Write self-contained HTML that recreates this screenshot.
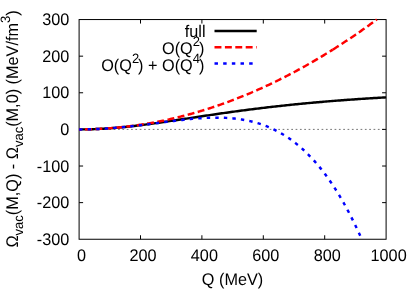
<!DOCTYPE html>
<html><head><meta charset="utf-8"><style>
html,body{margin:0;padding:0;background:#fff;}
svg{display:block;will-change:transform}
text{text-rendering:geometricPrecision;font-family:"Liberation Sans",sans-serif;font-size:16.25px;fill:#000}
</style></head><body>
<svg width="415" height="291" viewBox="0 0 415 291">
<line x1="79.1" y1="129.40" x2="386.1" y2="129.40" stroke="#000" stroke-width="0.55" stroke-dasharray="1.73,2.6"/>
<g stroke="#000" stroke-width="1" fill="none">
<rect x="79.1" y="19.55" width="307.0" height="219.7"/>
<line x1="79.1" y1="202.63" x2="83.1" y2="202.63"/><line x1="386.1" y1="202.63" x2="382.1" y2="202.63"/>
<line x1="79.1" y1="166.02" x2="83.1" y2="166.02"/><line x1="386.1" y1="166.02" x2="382.1" y2="166.02"/>
<line x1="79.1" y1="129.40" x2="83.1" y2="129.40"/><line x1="386.1" y1="129.40" x2="382.1" y2="129.40"/>
<line x1="79.1" y1="92.78" x2="83.1" y2="92.78"/><line x1="386.1" y1="92.78" x2="382.1" y2="92.78"/>
<line x1="79.1" y1="56.17" x2="83.1" y2="56.17"/><line x1="386.1" y1="56.17" x2="382.1" y2="56.17"/>
<line x1="140.50" y1="239.25" x2="140.50" y2="235.25"/><line x1="140.50" y1="19.55" x2="140.50" y2="23.55"/>
<line x1="201.90" y1="239.25" x2="201.90" y2="235.25"/><line x1="201.90" y1="19.55" x2="201.90" y2="23.55"/>
<line x1="263.30" y1="239.25" x2="263.30" y2="235.25"/><line x1="263.30" y1="19.55" x2="263.30" y2="23.55"/>
<line x1="324.70" y1="239.25" x2="324.70" y2="235.25"/><line x1="324.70" y1="19.55" x2="324.70" y2="23.55"/>
</g>
<g fill="none" stroke-width="2.45">
<path d="M79.10,129.40 L80.63,129.40 L82.17,129.39 L83.70,129.37 L85.24,129.35 L86.77,129.33 L88.31,129.30 L89.84,129.26 L91.38,129.21 L92.91,129.16 L94.45,129.11 L95.98,129.05 L97.52,128.98 L99.05,128.91 L100.59,128.83 L102.12,128.75 L103.66,128.66 L105.19,128.57 L106.73,128.47 L108.26,128.37 L109.80,128.26 L111.33,128.15 L112.87,128.03 L114.41,127.91 L115.94,127.78 L117.47,127.65 L119.01,127.51 L120.54,127.37 L122.08,127.22 L123.61,127.07 L125.15,126.92 L126.69,126.76 L128.22,126.60 L129.75,126.43 L131.29,126.26 L132.82,126.09 L134.36,125.91 L135.89,125.73 L137.43,125.55 L138.97,125.36 L140.50,125.17 L142.03,124.98 L143.57,124.79 L145.10,124.59 L146.64,124.39 L148.18,124.19 L149.71,123.98 L151.25,123.77 L152.78,123.56 L154.31,123.35 L155.85,123.14 L157.38,122.92 L158.92,122.70 L160.45,122.48 L161.99,122.26 L163.52,122.04 L165.06,121.82 L166.59,121.59 L168.13,121.36 L169.66,121.14 L171.20,120.91 L172.74,120.68 L174.27,120.45 L175.81,120.22 L177.34,119.99 L178.88,119.76 L180.41,119.53 L181.94,119.29 L183.48,119.06 L185.01,118.83 L186.55,118.59 L188.08,118.36 L189.62,118.13 L191.16,117.89 L192.69,117.66 L194.22,117.43 L195.76,117.20 L197.29,116.96 L198.83,116.73 L200.37,116.50 L201.90,116.27 L203.44,116.04 L204.97,115.81 L206.50,115.58 L208.04,115.35 L209.57,115.12 L211.11,114.90 L212.64,114.67 L214.18,114.45 L215.72,114.22 L217.25,114.00 L218.78,113.78 L220.32,113.56 L221.85,113.33 L223.39,113.12 L224.92,112.90 L226.46,112.68 L228.00,112.46 L229.53,112.25 L231.06,112.04 L232.60,111.82 L234.13,111.61 L235.67,111.40 L237.20,111.20 L238.74,110.99 L240.28,110.78 L241.81,110.58 L243.34,110.38 L244.88,110.17 L246.41,109.97 L247.95,109.77 L249.48,109.58 L251.02,109.38 L252.56,109.19 L254.09,108.99 L255.62,108.80 L257.16,108.61 L258.69,108.42 L260.23,108.23 L261.76,108.05 L263.30,107.86 L264.84,107.68 L266.37,107.50 L267.90,107.32 L269.44,107.14 L270.98,106.96 L272.51,106.79 L274.04,106.61 L275.58,106.44 L277.12,106.27 L278.65,106.10 L280.19,105.93 L281.72,105.76 L283.25,105.60 L284.79,105.43 L286.32,105.27 L287.86,105.11 L289.39,104.95 L290.93,104.79 L292.47,104.63 L294.00,104.48 L295.53,104.32 L297.07,104.17 L298.61,104.02 L300.14,103.87 L301.67,103.72 L303.21,103.57 L304.75,103.43 L306.28,103.28 L307.81,103.14 L309.35,103.00 L310.88,102.85 L312.42,102.72 L313.95,102.58 L315.49,102.44 L317.02,102.30 L318.56,102.17 L320.10,102.04 L321.63,101.91 L323.16,101.77 L324.70,101.64 L326.24,101.52 L327.77,101.39 L329.31,101.26 L330.84,101.14 L332.38,101.02 L333.91,100.89 L335.45,100.77 L336.98,100.65 L338.51,100.53 L340.05,100.42 L341.59,100.30 L343.12,100.18 L344.65,100.07 L346.19,99.96 L347.73,99.84 L349.26,99.73 L350.79,99.62 L352.33,99.51 L353.87,99.41 L355.40,99.30 L356.93,99.19 L358.47,99.09 L360.00,98.98 L361.54,98.88 L363.08,98.78 L364.61,98.68 L366.14,98.58 L367.68,98.48 L369.22,98.38 L370.75,98.28 L372.28,98.19 L373.82,98.09 L375.36,98.00 L376.89,97.91 L378.42,97.81 L379.96,97.72 L381.50,97.63 L383.03,97.54 L384.56,97.45 L386.10,97.36" stroke="#000"/>
<path d="M79.10,129.40 L80.37,129.40 L81.64,129.39 L82.91,129.38 L84.17,129.37 L85.44,129.35 L86.71,129.33 L87.98,129.30 L89.25,129.27 L90.52,129.24 L91.79,129.20 L93.06,129.16 L94.32,129.11 L95.59,129.06 L96.86,129.01 L98.13,128.95 L99.40,128.89 L100.67,128.82 L101.94,128.75 L103.20,128.68 L104.47,128.60 L105.74,128.52 L107.01,128.43 L108.28,128.34 L109.55,128.25 L110.82,128.15 L112.09,128.05 L113.35,127.95 L114.62,127.84 L115.89,127.72 L117.16,127.60 L118.43,127.48 L119.70,127.36 L120.97,127.23 L122.24,127.09 L123.50,126.96 L124.77,126.81 L126.04,126.67 L127.31,126.52 L128.58,126.37 L129.85,126.21 L131.12,126.05 L132.38,125.88 L133.65,125.71 L134.92,125.54 L136.19,125.36 L137.46,125.18 L138.73,124.99 L140.00,124.80 L141.27,124.61 L142.53,124.41 L143.80,124.21 L145.07,124.01 L146.34,123.80 L147.61,123.58 L148.88,123.37 L150.15,123.14 L151.41,122.92 L152.68,122.69 L153.95,122.46 L155.22,122.22 L156.49,121.98 L157.76,121.73 L159.03,121.48 L160.30,121.23 L161.56,120.97 L162.83,120.71 L164.10,120.45 L165.37,120.18 L166.64,119.90 L167.91,119.63 L169.18,119.34 L170.44,119.06 L171.71,118.77 L172.98,118.48 L174.25,118.18 L175.52,117.88 L176.79,117.57 L178.06,117.26 L179.33,116.95 L180.59,116.63 L181.86,116.31 L183.13,115.99 L184.40,115.66 L185.67,115.32 L186.94,114.99 L188.21,114.65 L189.47,114.30 L190.74,113.95 L192.01,113.60 L193.28,113.24 L194.55,112.88 L195.82,112.52 L197.09,112.15 L198.36,111.77 L199.62,111.40 L200.89,111.02 L202.16,110.63 L203.43,110.24 L204.70,109.85 L205.97,109.45 L207.24,109.05 L208.51,108.65 L209.77,108.24 L211.04,107.82 L212.31,107.41 L213.58,106.99 L214.85,106.56 L216.12,106.13 L217.39,105.70 L218.65,105.26 L219.92,104.82 L221.19,104.38 L222.46,103.93 L223.73,103.48 L225.00,103.02 L226.27,102.56 L227.54,102.09 L228.80,101.62 L230.07,101.15 L231.34,100.68 L232.61,100.19 L233.88,99.71 L235.15,99.22 L236.42,98.73 L237.68,98.23 L238.95,97.73 L240.22,97.23 L241.49,96.72 L242.76,96.20 L244.03,95.69 L245.30,95.17 L246.57,94.64 L247.83,94.11 L249.10,93.58 L250.37,93.05 L251.64,92.50 L252.91,91.96 L254.18,91.41 L255.45,90.86 L256.71,90.30 L257.98,89.74 L259.25,89.18 L260.52,88.61 L261.79,88.04 L263.06,87.46 L264.33,86.88 L265.60,86.29 L266.86,85.71 L268.13,85.11 L269.40,84.52 L270.67,83.92 L271.94,83.31 L273.21,82.70 L274.48,82.09 L275.75,81.48 L277.01,80.86 L278.28,80.23 L279.55,79.60 L280.82,78.97 L282.09,78.33 L283.36,77.69 L284.63,77.05 L285.89,76.40 L287.16,75.75 L288.43,75.09 L289.70,74.43 L290.97,73.77 L292.24,73.10 L293.51,72.43 L294.78,71.75 L296.04,71.07 L297.31,70.39 L298.58,69.70 L299.85,69.01 L301.12,68.31 L302.39,67.61 L303.66,66.91 L304.92,66.20 L306.19,65.49 L307.46,64.77 L308.73,64.05 L310.00,63.32 L311.27,62.60 L312.54,61.86 L313.81,61.13 L315.07,60.39 L316.34,59.64 L317.61,58.90 L318.88,58.14 L320.15,57.39 L321.42,56.63 L322.69,55.86 L323.95,55.10 L325.22,54.32 L326.49,53.55 L327.76,52.77 L329.03,51.98 L330.30,51.20 L331.57,50.40 L332.84,49.61" stroke="#f00" stroke-dasharray="6.93,3.47" stroke-dashoffset="4.5"/>
<path d="M332.84,49.61 L333.94,48.92 L335.03,48.22 L336.13,47.52 L337.23,46.82 L338.33,46.11 L339.43,45.41 L340.53,44.69 L341.63,43.98 L342.73,43.26 L343.83,42.54 L344.93,41.82 L346.03,41.09 L347.13,40.37 L348.23,39.63 L349.33,38.90 L350.43,38.16 L351.53,37.42 L352.63,36.68 L353.73,35.93 L354.83,35.18 L355.93,34.43 L357.03,33.67 L358.12,32.91 L359.22,32.15 L360.32,31.38 L361.42,30.62 L362.52,29.85 L363.62,29.07 L364.72,28.29 L365.82,27.51 L366.92,26.73 L368.02,25.95 L369.12,25.16 L370.22,24.36 L371.32,23.57 L372.42,22.77 L373.52,21.97 L374.62,21.17 L375.72,20.36 L376.82,19.55" stroke="#f00" stroke-dasharray="6.93,3.47"/>
<path d="M79.10,129.40 L80.51,129.40 L81.93,129.39 L83.34,129.38 L84.75,129.36 L86.17,129.34 L87.58,129.31 L88.99,129.28 L90.41,129.24 L91.82,129.20 L93.23,129.15 L94.65,129.10 L96.06,129.05 L97.47,128.99 L98.89,128.92 L100.30,128.85 L101.71,128.77 L103.13,128.70 L104.54,128.61 L105.95,128.52 L107.37,128.43 L108.78,128.33 L110.19,128.23 L111.61,128.13 L113.02,128.02 L114.43,127.90 L115.85,127.79 L117.26,127.66 L118.67,127.54 L120.09,127.41 L121.50,127.28 L122.91,127.14 L124.33,127.00 L125.74,126.86 L127.16,126.71 L128.57,126.56 L129.98,126.41 L131.40,126.26 L132.81,126.10 L134.22,125.94 L135.64,125.77 L137.05,125.61 L138.46,125.44 L139.88,125.27 L141.29,125.10 L142.70,124.92 L144.12,124.75 L145.53,124.57 L146.94,124.39 L148.36,124.21 L149.77,124.03 L151.18,123.84 L152.60,123.66 L154.01,123.48 L155.42,123.29 L156.84,123.11 L158.25,122.92 L159.66,122.73 L161.08,122.55 L162.49,122.36 L163.90,122.18 L165.32,122.00 L166.73,121.81 L168.14,121.63 L169.56,121.45 L170.97,121.27 L172.38,121.09 L173.80,120.92 L175.21,120.74 L176.62,120.57 L178.04,120.40 L179.45,120.24 L180.86,120.07 L182.28,119.91 L183.69,119.76 L185.10,119.60 L186.52,119.46 L187.93,119.31 L189.34,119.17 L190.76,119.03 L192.17,118.90 L193.58,118.78 L195.00,118.66 L196.41,118.54 L197.82,118.43 L199.24,118.33 L200.65,118.23 L202.06,118.14 L203.48,118.06 L204.89,117.98 L206.30,117.91 L207.72,117.85 L209.13,117.80 L210.54,117.75 L211.96,117.72 L213.37,117.69 L214.79,117.67 L216.20,117.66 L217.61,117.66 L219.03,117.68 L220.44,117.70 L221.85,117.73 L223.27,117.77 L224.68,117.83 L226.09,117.89 L227.51,117.97 L228.92,118.06 L230.33,118.17 L231.75,118.28 L233.16,118.41 L234.57,118.56 L235.99,118.71 L237.40,118.89 L238.81,119.07 L240.23,119.27 L241.64,119.49 L243.05,119.72 L244.47,119.97 L245.88,120.24 L247.29,120.52 L248.71,120.82 L250.12,121.14 L251.53,121.47 L252.95,121.83 L254.36,122.20 L255.77,122.59 L257.19,123.00 L258.60,123.43 L260.01,123.88 L261.43,124.35 L262.84,124.85 L264.25,125.36 L265.67,125.90 L267.08,126.46 L268.49,127.04 L269.91,127.64 L271.32,128.27 L272.73,128.92 L274.15,129.60 L275.56,130.30 L276.97,131.03 L278.39,131.78 L279.80,132.56 L281.21,133.36 L282.63,134.20 L284.04,135.06 L285.45,135.94 L286.87,136.86 L288.28,137.81 L289.69,138.78 L291.11,139.79 L292.52,140.82 L293.93,141.89 L295.35,142.98 L296.76,144.11 L298.17,145.27 L299.59,146.47 L301.00,147.69 L302.41,148.95 L303.83,150.25 L305.24,151.58 L306.66,152.94 L308.07,154.34 L309.48,155.78 L310.90,157.25 L312.31,158.76 L313.72,160.31 L315.14,161.89 L316.55,163.52 L317.96,165.18 L319.38,166.89 L320.79,168.63 L322.20,170.42 L323.62,172.24 L325.03,174.11 L326.44,176.02 L327.86,177.98 L329.27,179.97 L330.68,182.01 L332.10,184.10 L333.51,186.23 L334.92,188.41 L336.34,190.63 L337.75,192.90 L339.16,195.22 L340.58,197.59 L341.99,200.00 L343.40,202.47 L344.82,204.98 L346.23,207.54 L347.64,210.16 L349.06,212.83 L350.47,215.55 L351.88,218.32 L353.30,221.14 L354.71,224.02 L356.12,226.96 L357.54,229.94 L358.95,232.99 L360.36,236.09 L361.78,239.25" stroke="#00f" stroke-dasharray="3.42,5.13"/>
</g>
<text transform="translate(69.30,244.75) scale(1,1.04)" text-anchor="end">-300</text>
<text transform="translate(69.30,208.13) scale(1,1.04)" text-anchor="end">-200</text>
<text transform="translate(69.30,171.52) scale(1,1.04)" text-anchor="end">-100</text>
<text transform="translate(69.30,134.90) scale(1,1.04)" text-anchor="end">0</text>
<text transform="translate(69.30,98.28) scale(1,1.04)" text-anchor="end">100</text>
<text transform="translate(69.30,61.67) scale(1,1.04)" text-anchor="end">200</text>
<text transform="translate(69.30,25.05) scale(1,1.04)" text-anchor="end">300</text>
<text transform="translate(81.60,261.20) scale(1,1.04)" text-anchor="middle">0</text>
<text transform="translate(143.00,261.20) scale(1,1.04)" text-anchor="middle">200</text>
<text transform="translate(204.40,261.20) scale(1,1.04)" text-anchor="middle">400</text>
<text transform="translate(265.80,261.20) scale(1,1.04)" text-anchor="middle">600</text>
<text transform="translate(327.20,261.20) scale(1,1.04)" text-anchor="middle">800</text>
<text transform="translate(388.60,261.20) scale(1,1.04)" text-anchor="middle">1000</text>
<text transform="translate(232.50,285.00) scale(1,1.04)" text-anchor="middle">Q (MeV)</text>
<text transform="translate(18.10,128.95) rotate(-90) scale(1,1.04)" text-anchor="middle">Ω<tspan dy="5.1" font-size="13.0">vac</tspan><tspan dy="-5.1">(M,Q) - Ω</tspan><tspan dy="5.1" font-size="13.0">vac</tspan><tspan dy="-5.1">(M,0) (MeV/fm</tspan><tspan dy="-7.69" font-size="13.0">3</tspan><tspan dy="7.69">)</tspan></text>
<text transform="translate(205.50,36.70) scale(1,1.04)" text-anchor="end">full</text>
<text transform="translate(204.40,53.80) scale(1,1.04)" text-anchor="end">O(Q<tspan dy="-7.69" font-size="13.0">2</tspan><tspan dy="7.69" dx="-1">)</tspan></text>
<text transform="translate(204.40,70.80) scale(1,1.04)" text-anchor="end">O(Q<tspan dy="-7.69" font-size="13.0">2</tspan><tspan dy="7.69" dx="-1">) + O(Q</tspan><tspan dy="-7.69" font-size="13.0">4</tspan><tspan dy="7.69" dx="-1">)</tspan></text>
<g fill="none" stroke-width="2.45">
<line x1="214.5" y1="30.9" x2="256.7" y2="30.9" stroke="#000"/>
<line x1="214.5" y1="47.2" x2="256.7" y2="47.2" stroke="#f00" stroke-dasharray="6.93,3.47"/>
<line x1="214.5" y1="63.4" x2="256.7" y2="63.4" stroke="#00f" stroke-dasharray="3.47,5.2"/>
</g>
</svg></body></html>
